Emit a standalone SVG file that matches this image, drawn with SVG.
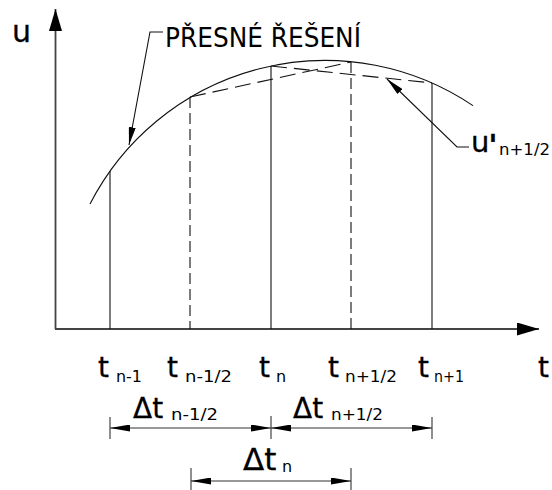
<svg xmlns="http://www.w3.org/2000/svg" width="552" height="490" viewBox="0 0 552 490">
<style>
.ax{stroke:#444;stroke-width:1.8;fill:none}
.ln{stroke:#111;stroke-width:1.1;fill:none}
.ds{stroke:#111;stroke-width:1.1;fill:none;stroke-dasharray:11 5}
.dsl{stroke:#111;stroke-width:1.1;fill:none;stroke-dasharray:16 7}
.dim{stroke:#333;stroke-width:1.1;fill:none}
.big{font-family:"DejaVu Sans",sans-serif;font-size:28px;fill:#000;stroke:#000;stroke-width:0.3}
.sub{font-family:"DejaVu Sans",sans-serif;font-size:16px;fill:#000;stroke:none}
.lbl{font-family:"DejaVu Sans",sans-serif;font-size:26px;fill:#000}
</style>
<defs>
<marker id="axArr" markerUnits="userSpaceOnUse" markerWidth="23" markerHeight="13" refX="22" refY="6.5" orient="auto"><path d="M0,0 L22,6.5 L0,13 z" fill="#000"/></marker>
<marker id="ldArr" markerUnits="userSpaceOnUse" markerWidth="19" markerHeight="7" refX="18" refY="3.5" orient="auto"><path d="M0,0 L18,3.5 L0,7 z" fill="#000"/></marker>
<marker id="dmArr" markerUnits="userSpaceOnUse" markerWidth="21" markerHeight="7" refX="20" refY="3.5" orient="auto-start-reverse"><path d="M0,0 L20,3.5 L0,7 z" fill="#000"/></marker>
</defs>
<g id="axes">
<line class="ax" x1="55.5" y1="329" x2="55.5" y2="9" marker-end="url(#axArr)"/>
<line class="ax" x1="55" y1="329" x2="539" y2="329" marker-end="url(#axArr)"/>
<text class="big" x="12" y="42" style="font-size:30px">u</text>
<text class="big" x="538" y="377">t</text>
</g>
<g id="curve">
<path class="ln" d="M90,204 A264.4,264.4 0 0 1 473,105.6"/>
</g>
<g id="verticals">
<line class="ln" x1="110" y1="171" x2="110" y2="329"/>
<line class="ds" x1="190" y1="97" x2="190" y2="329"/>
<line class="ln" x1="271" y1="66" x2="271" y2="329"/>
<line class="ds" x1="351" y1="62" x2="351" y2="329"/>
<line class="ln" x1="432" y1="83" x2="432" y2="329"/>
</g>
<g id="approx">
<line class="dsl" x1="190" y1="97" x2="351" y2="62"/>
<line class="dsl" x1="271" y1="66" x2="432" y2="83"/>
</g>
<g id="label-exact">
<polyline class="ln" points="163,32 150,32 129,145" marker-end="url(#ldArr)"/>
<text class="lbl" x="165" y="47" textLength="196" lengthAdjust="spacingAndGlyphs">PŘESNÉ ŘEŠENÍ</text>
</g>
<g id="label-uprime">
<polyline class="ln" points="469,147 457,147 387,79" marker-end="url(#ldArr)"/>
<text class="big" x="471" y="152" style="font-size:29px">u<tspan dx="-1" dy="3" style="font-weight:bold">'</tspan><tspan class="sub" x="499" y="155" textLength="51" lengthAdjust="spacingAndGlyphs">n+1/2</tspan></text>
</g>
<g id="tlabels">
<text class="big" x="98" y="377">t</text><text class="sub" x="116" y="382" textLength="26" lengthAdjust="spacingAndGlyphs">n-1</text>
<text class="big" x="167" y="377">t</text><text class="sub" x="185" y="382" textLength="47" lengthAdjust="spacingAndGlyphs">n-1/2</text>
<text class="big" x="259" y="377">t</text><text class="sub" x="276" y="382">n</text>
<text class="big" x="328" y="377">t</text><text class="sub" x="345" y="382" textLength="52" lengthAdjust="spacingAndGlyphs">n+1/2</text>
<text class="big" x="418" y="377">t</text><text class="sub" x="434" y="382" textLength="30" lengthAdjust="spacingAndGlyphs">n+1</text>
</g>
<g id="dimensions">
<line class="dim" x1="110" y1="417" x2="110" y2="439"/>
<line class="dim" x1="271" y1="416" x2="271" y2="439"/>
<line class="dim" x1="432" y1="417" x2="432" y2="439"/>
<line class="dim" x1="110" y1="428" x2="271" y2="428" marker-start="url(#dmArr)" marker-end="url(#dmArr)"/>
<line class="dim" x1="271" y1="428" x2="432" y2="428" marker-start="url(#dmArr)" marker-end="url(#dmArr)"/>
<line class="dim" x1="191" y1="468" x2="191" y2="490"/>
<line class="dim" x1="351" y1="468" x2="351" y2="490"/>
<line class="dim" x1="191" y1="481" x2="351" y2="481" marker-start="url(#dmArr)" marker-end="url(#dmArr)"/>
<text class="big" x="133" y="418">Δt</text><text class="sub" x="171" y="420" textLength="47" lengthAdjust="spacingAndGlyphs">n-1/2</text>
<text class="big" x="293" y="418">Δt</text><text class="sub" x="331" y="420" textLength="52" lengthAdjust="spacingAndGlyphs">n+1/2</text>
<text class="big" x="243" y="470" style="font-size:31px">Δt</text><text class="sub" x="282" y="472">n</text>
</g>
</svg>
